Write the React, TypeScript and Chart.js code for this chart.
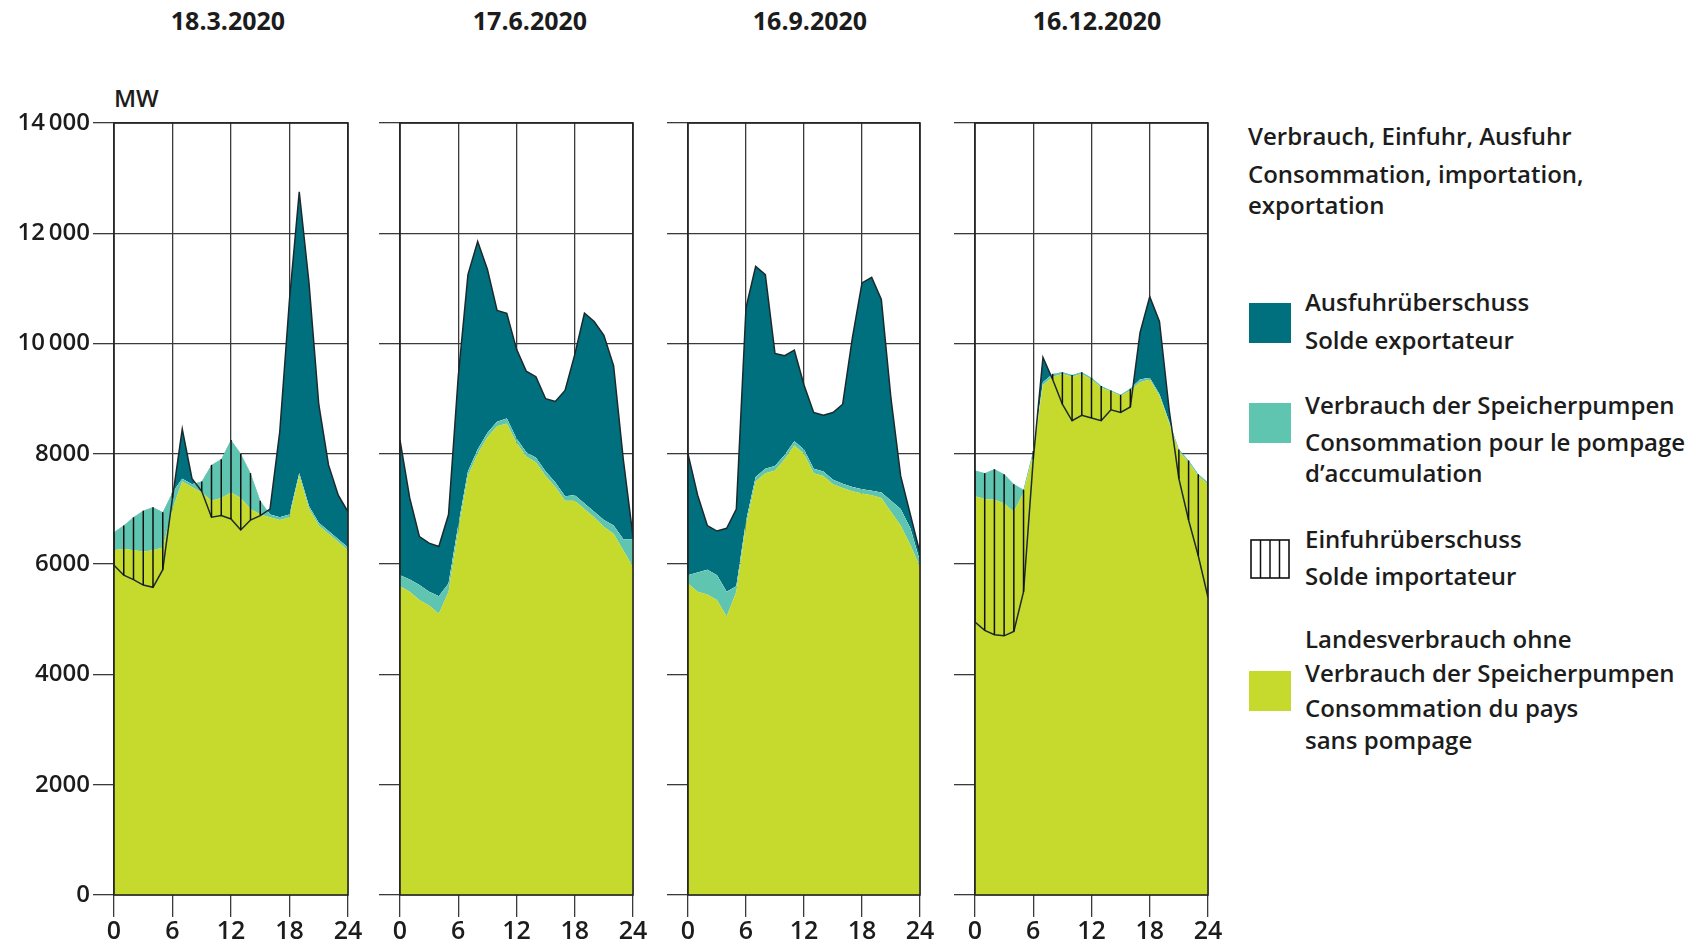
import React, { useEffect, useRef } from 'react';
import { Chart, registerables } from 'chart.js';

Chart.register(...registerables);

// ---------- data ----------
const HOURS = [0, 1, 2, 3, 4, 5, 6, 7, 8, 9, 10, 11, 12, 13, 14, 15, 16, 17, 18, 19, 20, 21, 22, 23, 24];
const X_TICKS = [0, 6, 12, 18, 24];
const Y_TICKS = [0, 2000, 4000, 6000, 8000, 10000, 12000, 14000];
const Y_TICK_LABELS = ['0', '2000', '4000', '6000', '8000', '10\u2009000', '12\u2009000', '14\u2009000'];
const PANEL_TITLES = ['18.3.2020', '17.6.2020', '16.9.2020', '16.12.2020'];

// Landesverbrauch ohne Speicherpumpen (MW)
const LAND_0318 = [6250, 6280, 6250, 6230, 6250, 6300, 7000, 7500, 7400, 7300, 7150, 7200, 7300, 7200, 7000, 6900, 6850, 6800, 6850, 7600, 7000, 6700, 6550, 6400, 6250];
const LAND_0617 = [5600, 5500, 5350, 5250, 5100, 5500, 6600, 7600, 8000, 8300, 8500, 8550, 8200, 7950, 7850, 7600, 7400, 7150, 7150, 7000, 6850, 6680, 6550, 6250, 5950];
const LAND_0916 = [5650, 5500, 5450, 5350, 5050, 5500, 6700, 7500, 7650, 7700, 7900, 8150, 8000, 7650, 7600, 7450, 7380, 7320, 7280, 7250, 7200, 6950, 6700, 6350, 5950];
const LAND_1216 = [7230, 7180, 7170, 7100, 6950, 7300, 8000, 9250, 9400, 9450, 9400, 9450, 9350, 9200, 9130, 9050, 9150, 9300, 9350, 9050, 8550, 8050, 7850, 7600, 7450];

// Landesverbrauch + Verbrauch der Speicherpumpen (MW)
const TOTAL_0318 = [6580, 6700, 6850, 6970, 7030, 6940, 7300, 7550, 7450, 7500, 7800, 7900, 8250, 8000, 7650, 7150, 6900, 6850, 6900, 7650, 7050, 6750, 6600, 6450, 6300];
const TOTAL_0617 = [5800, 5720, 5620, 5500, 5420, 5650, 6700, 7680, 8080, 8380, 8580, 8640, 8280, 8030, 7930, 7680, 7480, 7230, 7250, 7100, 6950, 6800, 6700, 6450, 6450];
const TOTAL_0916 = [5800, 5850, 5900, 5800, 5500, 5600, 6780, 7580, 7730, 7780, 7980, 8230, 8080, 7730, 7680, 7530, 7460, 7400, 7360, 7330, 7300, 7150, 7000, 6650, 6050];
const TOTAL_1216 = [7700, 7650, 7720, 7630, 7450, 7350, 8050, 9300, 9450, 9480, 9430, 9480, 9380, 9230, 9150, 9070, 9180, 9350, 9380, 9080, 8580, 8080, 7880, 7630, 7480];

// Verbrauch + Ausfuhr - Einfuhr (line bounding export / import surplus) (MW)
const SUPPLY_0318 = [5980, 5800, 5720, 5620, 5580, 5900, 7200, 8450, 7550, 7320, 6850, 6880, 6820, 6620, 6800, 6880, 7000, 8400, 10800, 12750, 11100, 8900, 7800, 7250, 6950];
const SUPPLY_0617 = [8250, 7200, 6500, 6380, 6320, 6900, 9400, 11250, 11850, 11350, 10600, 10550, 9900, 9500, 9400, 9000, 8950, 9150, 9800, 10550, 10400, 10150, 9600, 7900, 6500];
const SUPPLY_0916 = [8000, 7250, 6700, 6600, 6650, 7000, 10650, 11400, 11250, 9820, 9780, 9880, 9250, 8750, 8700, 8750, 8900, 10100, 11100, 11200, 10800, 9000, 7600, 6900, 6200];
const SUPPLY_1216 = [4950, 4800, 4720, 4700, 4780, 5500, 7900, 9750, 9350, 8900, 8600, 8700, 8650, 8600, 8800, 8750, 8850, 10200, 10850, 10400, 8800, 7550, 6800, 6150, 5400];

const PANEL_LAND = [LAND_0318, LAND_0617, LAND_0916, LAND_1216];
const PANEL_TOTAL = [TOTAL_0318, TOTAL_0617, TOTAL_0916, TOTAL_1216];
const PANEL_SUPPLY = [SUPPLY_0318, SUPPLY_0617, SUPPLY_0916, SUPPLY_1216];

const LEGEND_HEADER = ['Verbrauch, Einfuhr, Ausfuhr', 'Consommation, importation,', 'exportation'];
const LEGEND_EXPORT = ['Ausfuhrüberschuss', 'Solde exportateur'];
const LEGEND_PUMP = ['Verbrauch der Speicherpumpen', 'Consommation pour le pompage', 'd\u2019accumulation'];
const LEGEND_IMPORT = ['Einfuhrüberschuss', 'Solde importateur'];
const LEGEND_LAND = ['Landesverbrauch ohne', 'Verbrauch der Speicherpumpen', 'Consommation du pays', 'sans pompage'];

// ---------- styles ----------
const FONT = "'Open Sans', 'Noto Sans', sans-serif";
const YELLOW = '#c6d92d';
const LIGHT = '#5fc4b0';
const DARK = '#00707f';
const INK = '#1c1c1c';
const GRID = '#3a3a3a';

const CHART_TOP = 123;
const CHART_BOTTOM = 895;
const PAGE_H = 948;
const PANEL_LEFT = [114, 400, 688, 975];
const PANEL_W = [234, 233, 232, 233];
const TITLE_CX = [228, 530, 810, 1097];

function Panel({ idx }: { idx: number }) {
  const ref = useRef<HTMLCanvasElement | null>(null);
  const axisW = idx === 0 ? 114 : 40;
  const padRight = 30;
  const canvasLeft = PANEL_LEFT[idx] - axisW;
  const canvasW = axisW + PANEL_W[idx] + padRight;

  useEffect(() => {
    if (!ref.current) return;
    const land = PANEL_LAND[idx];
    const total = PANEL_TOTAL[idx];
    const supply = PANEL_SUPPLY[idx];
    const pts = (arr: number[]) => HOURS.map((h, i) => ({ x: h, y: arr[i] }));

    const hatchPlugin = {
      id: 'hatchAndFrame',
      afterDatasetsDraw(chart: any) {
        const { ctx, chartArea } = chart;
        const xs = chart.scales.x;
        const ys = chart.scales.y;
        ctx.save();
        ctx.beginPath();
        ctx.rect(chartArea.left, chartArea.top, chartArea.right - chartArea.left, chartArea.bottom - chartArea.top);
        ctx.clip();
        ctx.strokeStyle = '#111';
        ctx.lineWidth = 1.5;
        HOURS.forEach((h, i) => {
          if (supply[i] < total[i] - 40) {
            const px = xs.getPixelForValue(h);
            ctx.beginPath();
            ctx.moveTo(px, ys.getPixelForValue(supply[i]));
            ctx.lineTo(px, ys.getPixelForValue(total[i]));
            ctx.stroke();
          }
        });
        ctx.restore();
        ctx.save();
        ctx.strokeStyle = '#222';
        ctx.lineWidth = 1.6;
        ctx.strokeRect(chartArea.left, chartArea.top, chartArea.right - chartArea.left, chartArea.bottom - chartArea.top);
        ctx.restore();
      },
    };

    const chart = new Chart(ref.current, {
      type: 'line',
      data: {
        datasets: [
          { data: pts(land), fill: 'origin', backgroundColor: YELLOW, borderWidth: 0, pointRadius: 0, tension: 0 },
          { data: pts(total), fill: '-1', backgroundColor: LIGHT, borderWidth: 0, pointRadius: 0, tension: 0 },
          {
            data: pts(supply),
            fill: { target: 1, above: DARK, below: 'rgba(0,0,0,0)' },
            borderColor: '#1b2a2d',
            borderWidth: 1.5,
            pointRadius: 0,
            tension: 0,
          },
        ],
      } as any,
      options: {
        responsive: false,
        animation: false,
        layout: { padding: { top: CHART_TOP, right: padRight, left: 0, bottom: 0 } },
        plugins: {
          legend: { display: false },
          tooltip: { enabled: false },
          filler: { drawTime: 'beforeDatasetsDraw' },
        } as any,
        scales: {
          x: {
            type: 'linear',
            min: 0,
            max: 24,
            afterBuildTicks: (s: any) => {
              s.ticks = X_TICKS.map((v) => ({ value: v }));
            },
            afterFit: (s: any) => {
              s.height = PAGE_H - CHART_BOTTOM;
            },
            grid: { color: GRID, lineWidth: 1.3, tickLength: 22, drawTicks: true },
            border: { display: false },
            ticks: {
              autoSkip: false,
              maxRotation: 0,
              padding: 0,
              color: INK,
              font: { family: FONT, size: 25, weight: 600 },
              callback: (v: any) => String(v),
            },
          },
          y: {
            type: 'linear',
            min: 0,
            max: 14000,
            afterBuildTicks: (s: any) => {
              s.ticks = Y_TICKS.map((v) => ({ value: v }));
            },
            afterFit: (s: any) => {
              s.width = axisW;
            },
            grid: { color: GRID, lineWidth: 1.3, tickLength: 21, drawTicks: true },
            border: { display: false },
            ticks: {
              autoSkip: false,
              padding: 3,
              color: INK,
              font: { family: FONT, size: 24, weight: 600 },
              callback: (v: any) => (idx === 0 ? Y_TICK_LABELS[Y_TICKS.indexOf(Number(v))] : ''),
            },
          },
        },
      } as any,
      plugins: [hatchPlugin],
    });
    return () => chart.destroy();
  }, [idx]);

  return (
    <canvas
      ref={ref}
      width={canvasW}
      height={PAGE_H}
      style={{ position: 'absolute', left: canvasLeft, top: 0, width: canvasW, height: PAGE_H }}
    />
  );
}

const textStyle = (x: number, cy: number, size: number, weight: number, extra: any = {}) => ({
  position: 'absolute' as const,
  left: x,
  top: cy - 16,
  fontFamily: FONT,
  fontSize: size,
  fontWeight: weight,
  lineHeight: '32px',
  color: INK,
  whiteSpace: 'nowrap' as const,
  ...extra,
});

export default function App() {
  const headerY = [136, 174, 205];
  const exportY = [302, 340];
  const pumpY = [405, 442, 473];
  const importY = [539, 576];
  const landY = [639, 673, 708, 740];
  const legendX = 1305;

  return (
    <div style={{ position: 'absolute', left: 0, top: 0, width: 1701, height: PAGE_H, background: '#fff', overflow: 'hidden' }}>
      {PANEL_TITLES.map((t, i) => (
        <div
          key={t}
          style={{
            ...textStyle(TITLE_CX[i] - 100, 20, 25, 700),
            width: 200,
            textAlign: 'center',
          }}
        >
          {t}
        </div>
      ))}
      <div style={textStyle(114, 98, 24, 600)}>MW</div>
      {[0, 1, 2, 3].map((i) => (
        <Panel key={i} idx={i} />
      ))}

      {LEGEND_HEADER.map((t, i) => (
        <div key={t} style={textStyle(1248, headerY[i], 24, 600)}>{t}</div>
      ))}

      <div style={{ position: 'absolute', left: 1249, top: 303, width: 42, height: 40, background: DARK }} />
      {LEGEND_EXPORT.map((t, i) => (
        <div key={t} style={textStyle(legendX, exportY[i], 24, 600)}>{t}</div>
      ))}

      <div style={{ position: 'absolute', left: 1249, top: 403, width: 42, height: 40, background: LIGHT }} />
      {LEGEND_PUMP.map((t, i) => (
        <div key={t} style={textStyle(legendX, pumpY[i], 24, 600)}>{t}</div>
      ))}

      <svg style={{ position: 'absolute', left: 1250, top: 539 }} width={41} height={41}>
        <rect x={1} y={1} width={38} height={38} fill="#fff" stroke="#111" strokeWidth={1.6} />
        <line x1={10.5} y1={1} x2={10.5} y2={39} stroke="#111" strokeWidth={1.5} />
        <line x1={20} y1={1} x2={20} y2={39} stroke="#111" strokeWidth={1.5} />
        <line x1={29.5} y1={1} x2={29.5} y2={39} stroke="#111" strokeWidth={1.5} />
      </svg>
      {LEGEND_IMPORT.map((t, i) => (
        <div key={t} style={textStyle(legendX, importY[i], 24, 600)}>{t}</div>
      ))}

      <div style={{ position: 'absolute', left: 1249, top: 671, width: 42, height: 40, background: YELLOW }} />
      {LEGEND_LAND.map((t, i) => (
        <div key={t + i} style={textStyle(legendX, landY[i], 24, 600)}>{t}</div>
      ))}
    </div>
  );
}
